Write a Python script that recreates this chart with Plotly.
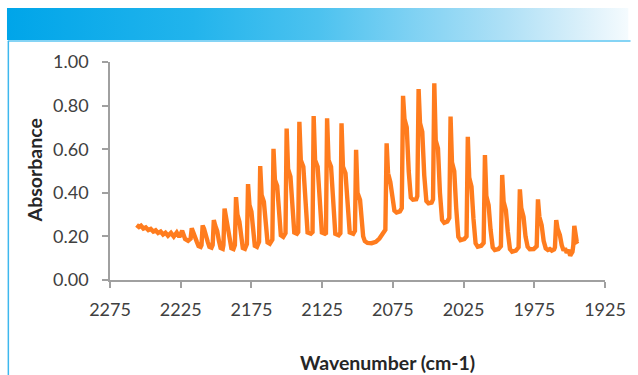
import base64
import plotly.graph_objects as go

# Gas-phase IR absorbance spectrum, wavenumber (cm-1) vs absorbance
baseline_wn = [2256.2, 2254.5, 2253.1, 2251.4, 2249.7, 2247.9, 2246.2, 2244.4,
               2242.7, 2241.0, 2239.2, 2237.5, 2235.8, 2234.0, 2231.9, 2229.9,
               2227.8, 2226.0, 2224.0, 2221.9, 2219.8]
baseline_abs = [0.252, 0.243, 0.249, 0.236, 0.241, 0.229, 0.234, 0.222,
                0.228, 0.216, 0.222, 0.209, 0.217, 0.203, 0.216, 0.199,
                0.218, 0.197, 0.226, 0.188, 0.180]

high_branch_wn = [
    2218.0, 2217.2, 2216.2, 2214.8, 2213.6, 2212.4, 2210.9,
    2210.3, 2209.5, 2208.5, 2207.1, 2205.9, 2204.7, 2203.2,
    2202.4, 2201.6, 2200.6, 2199.2, 2198.0, 2196.8, 2195.3,
    2194.8, 2194.0, 2193.0, 2191.6, 2190.4, 2189.2, 2187.7,
    2186.7, 2185.9, 2184.9, 2183.5, 2182.3, 2181.1, 2179.6,
    2178.2, 2177.4, 2176.4, 2175.0, 2173.8, 2172.6, 2171.1,
    2169.6, 2168.8, 2167.8, 2166.2, 2164.9, 2163.6, 2162.0,
    2160.2, 2159.4, 2158.4, 2156.8, 2155.5, 2154.2, 2152.5,
    2150.9, 2150.1, 2149.1, 2147.4, 2146.0, 2144.7, 2142.8,
    2141.9, 2141.1, 2140.1, 2138.3, 2136.8, 2135.3, 2133.0,
    2131.8, 2131.0, 2130.0, 2128.2, 2126.7, 2125.2, 2123.0,
    2122.3, 2121.5, 2120.5, 2118.7, 2117.2, 2115.7, 2113.3,
    2112.1, 2111.3, 2110.3, 2108.5, 2107.0, 2105.5, 2103.0,
    2101.8, 2101.0, 2100.0, 2098.2, 2097.0, 2096.0,
]
high_branch_abs = [
    0.190, 0.237, 0.222, 0.205, 0.175, 0.156, 0.152,
    0.160, 0.250, 0.235, 0.210, 0.175, 0.152, 0.148,
    0.160, 0.275, 0.250, 0.225, 0.180, 0.147, 0.143,
    0.160, 0.328, 0.290, 0.260, 0.200, 0.146, 0.142,
    0.160, 0.380, 0.300, 0.268, 0.200, 0.147, 0.143,
    0.165, 0.440, 0.345, 0.313, 0.220, 0.157, 0.152,
    0.175, 0.523, 0.390, 0.359, 0.250, 0.172, 0.166,
    0.185, 0.602, 0.460, 0.431, 0.300, 0.205, 0.198,
    0.215, 0.695, 0.510, 0.474, 0.320, 0.218, 0.212,
    0.220, 0.726, 0.550, 0.520, 0.340, 0.218, 0.212,
    0.220, 0.752, 0.550, 0.520, 0.340, 0.218, 0.212,
    0.215, 0.742, 0.550, 0.520, 0.340, 0.212, 0.205,
    0.215, 0.719, 0.520, 0.490, 0.330, 0.218, 0.212,
    0.225, 0.597, 0.400, 0.367, 0.260, 0.200,
]

gap_wn = [2094.8, 2093.0, 2090.0, 2087.0, 2084.5, 2082.0]
gap_abs = [0.178, 0.170, 0.169, 0.175, 0.190, 0.212]

low_branch_wn = [
    2080.3, 2079.4, 2078.4, 2076.8, 2075.4, 2073.9, 2072.4, 2070.0,
    2068.7, 2067.8, 2066.8, 2065.2, 2063.8, 2062.3, 2060.8, 2058.5,
    2057.7, 2056.8, 2055.8, 2054.2, 2052.8, 2051.3, 2049.8, 2047.6,
    2046.6, 2045.7, 2044.7, 2043.1, 2041.7, 2040.2, 2038.7, 2036.5,
    2035.1, 2034.2, 2033.2, 2031.6, 2030.2, 2028.7, 2027.2, 2024.5,
    2022.9, 2022.0, 2021.0, 2019.4, 2018.0, 2016.5, 2015.0, 2012.5,
    2010.8, 2009.9, 2008.9, 2007.3, 2005.9, 2004.4, 2002.9, 2000.3,
    1998.6, 1997.7, 1996.7, 1995.1, 1993.7, 1992.2, 1990.7, 1988.0,
    1986.1, 1985.2, 1984.2, 1982.6, 1981.2, 1979.7, 1978.2, 1975.4,
    1973.3, 1972.4, 1971.4, 1969.8, 1968.4, 1966.9, 1965.4, 1964.0, 1962.6, 1961.0,
    1960.4, 1959.5, 1958.5, 1956.9, 1955.6, 1954.3, 1953.3, 1952.1, 1950.9, 1949.6, 1948.0,
    1947.4, 1946.7, 1945.8, 1945.0, 1944.0,
]
low_branch_abs = [
    0.230, 0.627, 0.490, 0.450, 0.370, 0.318, 0.310, 0.315,
    0.330, 0.845, 0.740, 0.700, 0.500, 0.378, 0.368, 0.370,
    0.385, 0.876, 0.720, 0.680, 0.480, 0.362, 0.352, 0.355,
    0.370, 0.902, 0.640, 0.604, 0.400, 0.275, 0.262, 0.268,
    0.285, 0.750, 0.540, 0.500, 0.330, 0.198, 0.183, 0.188,
    0.200, 0.657, 0.470, 0.428, 0.280, 0.168, 0.153, 0.157,
    0.170, 0.573, 0.385, 0.344, 0.230, 0.150, 0.138, 0.142,
    0.155, 0.482, 0.360, 0.321, 0.220, 0.142, 0.130, 0.135,
    0.150, 0.416, 0.330, 0.290, 0.200, 0.152, 0.141, 0.142,
    0.155, 0.370, 0.290, 0.252, 0.180, 0.145, 0.138, 0.142, 0.135, 0.140,
    0.150, 0.275, 0.235, 0.206, 0.160, 0.135, 0.145, 0.125, 0.138, 0.112, 0.130,
    0.160, 0.248, 0.210, 0.176, 0.180,
]

x_ticks = [2275, 2225, 2175, 2125, 2075, 2025, 1975, 1925]
y_ticks = [0.0, 0.2, 0.4, 0.6, 0.8, 1.0]

wavenumber = baseline_wn + high_branch_wn + gap_wn + low_branch_wn
absorbance = baseline_abs + high_branch_abs + gap_abs + low_branch_abs

W, H = 638, 375
L, R, T, B = 110, 24, 62, 95
pw, ph = W - L - R, H - T - B


def px(xp):
    return (xp - L) / pw


def py(yp):
    return (H - B - yp) / ph


fig = go.Figure(go.Scatter(
    x=wavenumber, y=absorbance, mode="lines",
    line=dict(color="#FF7C1E", width=4.4),
    hoverinfo="skip", showlegend=False,
))

tick_font = dict(family="Lato, 'Open Sans', sans-serif", size=18, color="#404040")
axis_common = dict(showgrid=False, zeroline=False, showline=True,
                   linecolor="#A0A0A0", linewidth=1.5, ticks="outside",
                   ticklen=6, tickwidth=1.5, tickcolor="#A0A0A0",
                   tickfont=tick_font)

fig.update_xaxes(range=[2275, 1925], tickvals=x_ticks,
                 ticktext=[str(v) for v in x_ticks], ticklabelstandoff=7,
                 **axis_common)
fig.update_yaxes(range=[0, 1.0], tickvals=y_ticks,
                 ticktext=[f"{v:.2f}" for v in y_ticks], ticklabelstandoff=10,
                 **axis_common)

# Header banner with a horizontal blue-to-white gradient
svg = (
    "<svg xmlns='http://www.w3.org/2000/svg' width='633' height='32' "
    "preserveAspectRatio='none'><defs><linearGradient id='g' x1='0' x2='1' "
    "y1='0' y2='0'>"
    "<stop offset='0' stop-color='#00A5E9'/>"
    "<stop offset='0.3' stop-color='#22B4EC'/>"
    "<stop offset='0.5' stop-color='#4CC2EF'/>"
    "<stop offset='0.65' stop-color='#7ED1F3'/>"
    "<stop offset='0.8' stop-color='#AEE0F6'/>"
    "<stop offset='0.92' stop-color='#D8EFFA'/>"
    "<stop offset='1' stop-color='#F5FBFE'/>"
    "</linearGradient></defs><rect width='633' height='32' fill='url(#g)'/></svg>"
)
src = "data:image/svg+xml;base64," + base64.b64encode(svg.encode()).decode()
fig.add_layout_image(dict(
    source=src, xref="paper", yref="paper",
    x=px(5), y=py(8), sizex=(638 - 5) / pw, sizey=32 / ph,
    xanchor="left", yanchor="top", sizing="stretch", layer="above",
))

# Thin frame lines under the banner and down the left edge
fig.add_shape(type="line", xref="paper", yref="paper",
              x0=px(6), x1=px(640), y0=py(41), y1=py(41),
              line=dict(color="#5CC6F2", width=1.5))
fig.add_shape(type="line", xref="paper", yref="paper",
              x0=px(6.5), x1=px(6.5), y0=py(41), y1=py(380),
              line=dict(color="#3DB8EE", width=1.5))

title_font = dict(family="Lato, 'Open Sans', sans-serif", size=19.5, color="#262626")
fig.add_annotation(text="<b>Absorbance</b>", xref="paper", yref="paper",
                   x=px(33), y=py(170), textangle=-90, showarrow=False,
                   xanchor="center", yanchor="middle", font=title_font)
fig.add_annotation(text="<b>Wavenumber (cm-1)</b>", xref="paper", yref="paper",
                   x=px(393), y=py(362), showarrow=False,
                   xanchor="center", yanchor="middle", font=title_font)

fig.update_layout(
    width=W, height=H,
    margin=dict(l=L, r=R, t=T, b=B, pad=0),
    paper_bgcolor="white", plot_bgcolor="white",
)

fig.write_html("out.html")
